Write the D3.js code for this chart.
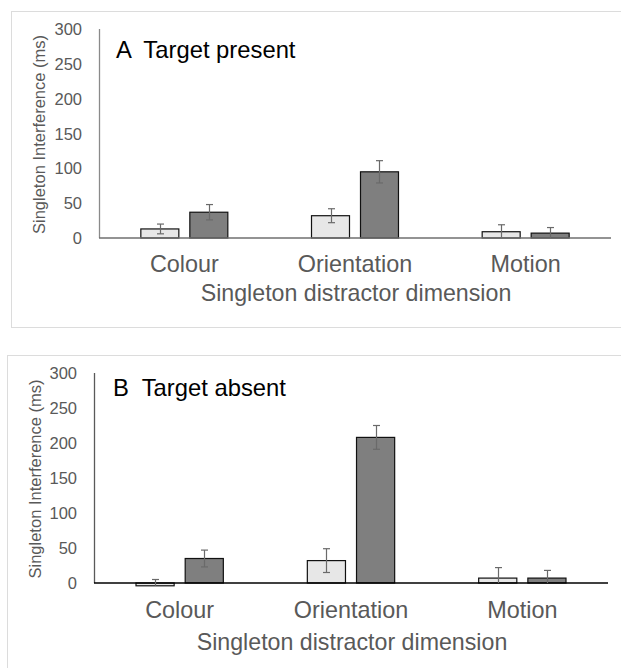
<!DOCTYPE html>
<html><head><meta charset="utf-8">
<script src="https://cdn.jsdelivr.net/npm/d3@7"></script>
<style>
html,body{margin:0;padding:0;background:#fff;}
svg{display:block;font-family:"Liberation Sans",Arial,sans-serif;}
</style></head>
<body><svg id="c" width="621" height="668"></svg>
<script>
const categories = ["Colour", "Orientation", "Motion"];
const seriesNames = ["light", "dark"];
const yTicks = [0, 50, 100, 150, 200, 250, 300];
const panelTitles = ["A  Target present", "B  Target absent"];
const xAxisTitle = "Singleton distractor dimension";
const yAxisTitle = "Singleton Interference (ms)";

// Panel A (target present)
const presentLight = [13, 32, 9];
const presentLightErr = [7, 10, 10];
const presentDark = [37, 95, 7];
const presentDarkErr = [11, 16, 8];
// Panel B (target absent)
const absentLight = [-4, 32, 7];
const absentLightErr = [9, 17, 15];
const absentDark = [35, 208, 7];
const absentDarkErr = [12, 17, 11];

const svg = d3.select("#c");
const fills = {light: "#e7e7e7", dark: "#7f7f7f"};

const panels = [
  {title: panelTitles[0], light: presentLight, lightErr: presentLightErr, dark: presentDark, darkErr: presentDarkErr,
   box: [11.5, 11.5, 640, 316], x0: 99, x1: 611, yTop: 29, yBase: 238, titleX: 116, titleY: 50,
   catY: 264, xlabY: 293, yTitleX: 39, yAxisCol: "#8a8a8a", baseCol: "#6f6f6f"},
  {title: panelTitles[1], light: absentLight, lightErr: absentLightErr, dark: absentDark, darkErr: absentDarkErr,
   box: [7.5, 355.5, 640, 340], x0: 94, x1: 608, yTop: 373, yBase: 583, titleX: 113, titleY: 388,
   catY: 610, xlabY: 642, yTitleX: 35, yAxisCol: "#595959", baseCol: "#000"}
];

panels.forEach(p => {
  const g = svg.append("g");
  g.append("rect").attr("x", p.box[0]).attr("y", p.box[1]).attr("width", p.box[2]).attr("height", p.box[3])
    .attr("fill", "none").attr("stroke", "#dcdcdc").attr("stroke-width", 1);

  const y = d3.scaleLinear().domain([0, 300]).range([p.yBase, p.yTop]);
  const x = d3.scaleBand().domain(categories).range([p.x0, p.x1]).padding(0);
  const xs = d3.scaleBand().domain(seriesNames).range([0, x.bandwidth()]).paddingInner(11/49).paddingOuter(0.854);

  // y axis labels
  const ax = d3.axisLeft(y).tickValues(yTicks).tickSize(0).tickPadding(17);
  const axG = g.append("g").attr("transform", `translate(${p.x0},0)`).call(ax);
  axG.select(".domain").remove();
  axG.selectAll("text").attr("font-size", 16.5).attr("fill", "#595959")
    .attr("font-family", "'Liberation Sans', Arial, sans-serif").attr("dy", "0.34em");
  g.append("line").attr("x1", p.x0 + 0.5).attr("x2", p.x0 + 0.5).attr("y1", y(300)).attr("y2", y(0))
    .attr("stroke", p.yAxisCol).attr("stroke-width", 1.3);

  // bars
  const rows = [];
  categories.forEach((c, i) => {
    rows.push({c, s: "light", v: p.light[i], e: p.lightErr[i]});
    rows.push({c, s: "dark", v: p.dark[i], e: p.darkErr[i]});
  });
  g.selectAll("rect.bar").data(rows).join("rect").attr("class", "bar")
    .attr("x", d => x(d.c) + xs(d.s))
    .attr("width", xs.bandwidth())
    .attr("y", d => y(Math.max(0, d.v)))
    .attr("height", d => Math.abs(y(d.v) - y(0)))
    .attr("fill", d => fills[d.s]).attr("stroke", "#111").attr("stroke-width", 1.2);

  // baseline
  g.append("line").attr("x1", p.x0).attr("x2", p.x1).attr("y1", y(0)).attr("y2", y(0))
    .attr("stroke", p.baseCol).attr("stroke-width", 1.5);

  // error bars
  const eg = g.selectAll("g.err").data(rows).join("g").attr("class", "err")
    .attr("stroke", "#6a6a6a").attr("stroke-width", 1.2);
  const cx = d => Math.round(x(d.c) + xs(d.s) + xs.bandwidth() / 2) + 0.5;
  const lo = d => Math.max(d.v - d.e, Math.min(d.v, 0));
  eg.append("line").attr("x1", cx).attr("x2", cx).attr("y1", d => y(d.v + d.e)).attr("y2", d => y(lo(d)));
  eg.append("line").attr("x1", d => cx(d) - 3.5).attr("x2", d => cx(d) + 3.5)
    .attr("y1", d => y(d.v + d.e)).attr("y2", d => y(d.v + d.e));
  eg.filter(d => d.v - d.e >= Math.min(d.v, 0)).append("line")
    .attr("x1", d => cx(d) - 3.5).attr("x2", d => cx(d) + 3.5)
    .attr("y1", d => y(d.v - d.e)).attr("y2", d => y(d.v - d.e));

  // category labels
  g.selectAll("text.cat").data(categories).join("text").attr("class", "cat")
    .attr("x", d => x(d) + x.bandwidth() / 2).attr("y", p.catY).attr("dy", "0.35em")
    .attr("text-anchor", "middle").attr("font-size", 23.4).attr("fill", "#595959").text(d => d);

  g.append("text").attr("x", (p.x0 + p.x1) / 2 + 1).attr("y", p.xlabY).attr("dy", "0.35em")
    .attr("text-anchor", "middle").attr("font-size", 23.2).attr("fill", "#595959").text(xAxisTitle);

  g.append("text").attr("transform", `translate(${p.yTitleX},${(y(0) + y(300)) / 2 + 1}) rotate(-90)`)
    .attr("dy", "0.35em").attr("text-anchor", "middle").attr("font-size", 16.5).attr("fill", "#595959")
    .text(yAxisTitle);

  g.append("text").attr("x", p.titleX).attr("y", p.titleY).attr("dy", "0.35em")
    .attr("font-size", 23.8).attr("fill", "#000").attr("xml:space", "preserve")
    .style("white-space", "pre").text(p.title);
});
</script></body></html>
